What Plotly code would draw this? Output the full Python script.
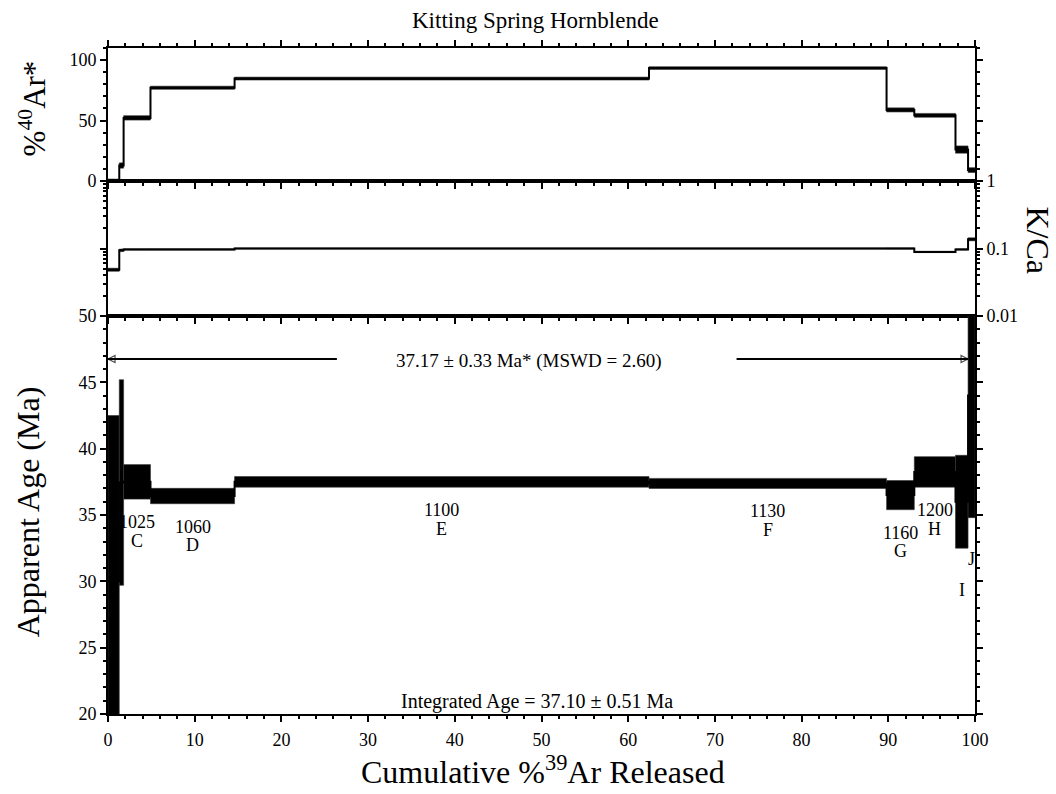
import plotly.graph_objects as go
from plotly.subplots import make_subplots

# ---------------- data ----------------
cum_39ar = [0, 1.3, 1.8, 4.9, 14.6, 62.4, 89.8, 93.0, 97.75, 99.2, 100]
temps = ["", "", "1025", "1060", "1100", "1130", "1160", "1200", "", ""]
step_ids = ["", "", "C", "D", "E", "F", "G", "H", "I", "J"]
age_ma = [30.0, 37.45, 37.5, 36.43, 37.5, 37.38, 36.5, 38.25, 36.0, 44.0]
age_err = [12.5, 7.75, 1.3, 0.58, 0.4, 0.38, 1.1, 1.15, 3.5, 9.2]
rad40 = [0.8, 12.8, 52.2, 77.1, 84.7, 93.4, 58.8, 54.3, 26.0, 9.0]
rad40_err = [0.8, 2.2, 1.8, 1.3, 1.2, 1.1, 1.7, 1.6, 3.0, 2.0]
kca = [0.0485, 0.094, 0.097, 0.097, 0.100, 0.100, 0.100, 0.089, 0.097, 0.137]
kca_err = [0.0025, 0.004, 0.002, 0.002, 0.002, 0.002, 0.002, 0.002, 0.002, 0.007]

x_ticks = [0, 10, 20, 30, 40, 50, 60, 70, 80, 90, 100]
age_ticks = [20, 25, 30, 35, 40, 45, 50]
rad_ticks = [0, 50, 100]
kca_ticks = [0.01, 0.1, 1]
kca_ticktext = ["0.01", "0.1", "1"]
kca_minor = [m * d for d in (0.01, 0.1) for m in range(2, 10)]

title_text = "Kitting Spring Hornblende"
plateau_text = "37.17 ± 0.33 Ma* (MSWD = 2.60)"
integrated_text = "Integrated Age = 37.10 ± 0.51 Ma"

# plateau arrow extent (data units)
plateau_left = [0, 26.4]
plateau_right = [72.5, 99.2]
plateau_y = 46.76

FONT = "Liberation Serif"
BLACK = "#000000"

fig = make_subplots(rows=3, cols=1, shared_xaxes=True, vertical_spacing=0,
                    row_heights=[133, 135, 398])


def add_spectrum(vals, errs, row):
    n = len(vals)
    for i in range(n):
        x0, x1 = cum_39ar[i], cum_39ar[i + 1]
        lo, hi = vals[i] - errs[i], vals[i] + errs[i]
        fig.add_trace(go.Scatter(
            x=[x0, x1, x1, x0, x0], y=[lo, lo, hi, hi, lo],
            mode="lines", fill="toself", fillcolor=BLACK,
            line=dict(color="#333333", width=0.6), hoverinfo="skip",
            showlegend=False), row=row, col=1)
    fig.add_trace(go.Scatter(
        x=cum_39ar, y=list(vals) + [vals[-1]], mode="lines",
        line=dict(color=BLACK, width=2, shape="hv"), hoverinfo="skip",
        showlegend=False), row=row, col=1)


add_spectrum(rad40, rad40_err, 1)
add_spectrum(kca, kca_err, 2)
add_spectrum(age_ma, age_err, 3)

# plateau arrows (lines with open arrowheads at the outer ends)
fig.add_trace(go.Scatter(
    x=plateau_left, y=[plateau_y, plateau_y], mode="lines+markers",
    line=dict(color=BLACK, width=2),
    marker=dict(symbol=["arrow-left-open", "circle"], size=[7, 0],
                color=BLACK, line=dict(color=BLACK, width=1.2)),
    hoverinfo="skip", showlegend=False, cliponaxis=False), row=3, col=1)
fig.add_trace(go.Scatter(
    x=plateau_right, y=[plateau_y, plateau_y], mode="lines+markers",
    line=dict(color=BLACK, width=2),
    marker=dict(symbol=["circle", "arrow-right-open"], size=[0, 7],
                color=BLACK, line=dict(color=BLACK, width=1.2)),
    hoverinfo="skip", showlegend=False), row=3, col=1)

axis_common = dict(showline=True, linecolor=BLACK, linewidth=2, ticks="outside",
                   ticklen=6, tickwidth=2, tickcolor=BLACK, showgrid=False,
                   zeroline=False,
                   tickfont=dict(family=FONT, size=18, color=BLACK))

for r in (1, 2, 3):
    fig.update_xaxes(range=[0, 100], tickvals=x_ticks,
                     minor=dict(dtick=2, tick0=0, ticks="outside", ticklen=3,
                                tickwidth=1.5, tickcolor=BLACK, showgrid=False),
                     mirror="ticks" if r == 1 else True,
                     showticklabels=(r == 3), ticklabelstandoff=2,
                     row=r, col=1, **axis_common)

fig.update_yaxes(range=[0, 110], tickvals=rad_ticks, mirror="ticks",
                 minor=dict(dtick=10, tick0=0, ticks="outside", ticklen=3,
                            tickwidth=1.5, tickcolor=BLACK, showgrid=False),
                 row=1, col=1, **axis_common)
fig.update_yaxes(type="log", range=[-2, 0], tickvals=kca_ticks,
                 ticktext=kca_ticktext, side="right", mirror="ticks",
                 minor=dict(tickmode="array", tickvals=kca_minor, ticks="outside",
                            ticklen=3, tickwidth=1.5, tickcolor=BLACK,
                            showgrid=False),
                 row=2, col=1, **axis_common)
fig.update_yaxes(range=[20, 50], tickvals=age_ticks, mirror="ticks",
                 minor=dict(dtick=1, tick0=20, ticks="outside", ticklen=3,
                            tickwidth=1.5, tickcolor=BLACK, showgrid=False),
                 row=3, col=1, **axis_common)

ann = []
# step labels below each age box
for i in range(len(age_ma)):
    xm = (cum_39ar[i] + cum_39ar[i + 1]) / 2
    lo = age_ma[i] - age_err[i]
    if temps[i]:
        ann.append(dict(x=xm, y=lo, xref="x3", yref="y3", text=temps[i],
                        showarrow=False, yshift=-23, yanchor="middle",
                        font=dict(family=FONT, size=18, color=BLACK)))
    if step_ids[i]:
        ann.append(dict(x=xm, y=lo, xref="x3", yref="y3", text=step_ids[i],
                        showarrow=False, yshift=-41.5, yanchor="middle",
                        font=dict(family=FONT, size=18, color=BLACK)))

ann.append(dict(x=48.6, y=plateau_y, xref="x3", yref="y3", text=plateau_text,
                showarrow=False, yanchor="middle", yshift=-2,
                font=dict(family=FONT, size=19, color=BLACK)))
ann.append(dict(x=49.5, y=20.93, xref="x3", yref="y3", text=integrated_text,
                showarrow=False, yanchor="middle",
                font=dict(family=FONT, size=20, color=BLACK)))

# titles
ann.append(dict(x=0.4933, y=1.042, xref="paper", yref="paper", text=title_text,
                showarrow=False, yanchor="middle",
                font=dict(family=FONT, size=23, color=BLACK)))
ann.append(dict(x=-0.0922, y=0.303, xref="paper", yref="paper",
                text="Apparent Age (Ma)", showarrow=False, textangle=-90,
                xanchor="center", yanchor="middle",
                font=dict(family=FONT, size=32, color=BLACK)))
ann.append(dict(x=-0.0876, y=0.9094, xref="paper", yref="paper",
                text="%<sup>40</sup>Ar*", showarrow=False, textangle=-90,
                xanchor="center", yanchor="middle",
                font=dict(family=FONT, size=31, color=BLACK)))
ann.append(dict(x=1.0721, y=0.7117, xref="paper", yref="paper",
                text="K/Ca", showarrow=False, textangle=90,
                xanchor="center", yanchor="middle",
                font=dict(family=FONT, size=32, color=BLACK)))
ann.append(dict(x=0.5017, y=-0.0841, xref="paper", yref="paper",
                text="Cumulative %<sup>39</sup>Ar Released", showarrow=False,
                xanchor="center", yanchor="middle",
                font=dict(family=FONT, size=32, color=BLACK)))

fig.update_layout(width=1056, height=794, plot_bgcolor="white",
                  paper_bgcolor="white",
                  margin=dict(l=108, r=81, t=48, b=80),
                  showlegend=False, annotations=ann,
                  font=dict(family=FONT, color=BLACK))

fig.write_html("out.html")
